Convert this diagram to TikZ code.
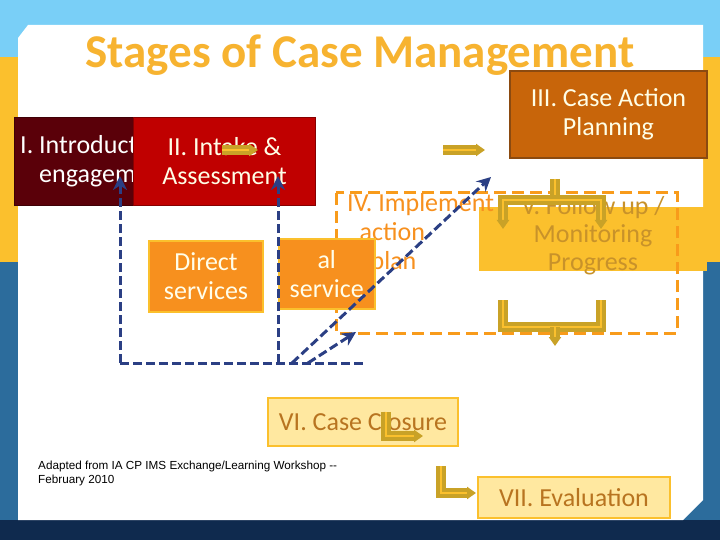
\documentclass[tikz,border=0pt]{standalone}
\usepackage{fontspec}
\setmainfont{Carlito}
\newfontfamily\arialf{Liberation Sans}
\usetikzlibrary{arrows.meta}
\definecolor{sky}{HTML}{79CFF7}
\definecolor{band}{HTML}{FBC02D}
\definecolor{navy}{HTML}{0F2A4E}
\definecolor{sea}{HTML}{2C6C9C}
\definecolor{titc}{HTML}{F7B330}
\definecolor{dred}{HTML}{5A0009}
\definecolor{red2}{HTML}{C00000}
\definecolor{brn}{HTML}{C8650A}
\definecolor{brnb}{HTML}{8B4A10}
\definecolor{org}{HTML}{F7901E}
\definecolor{gold}{HTML}{C9A227}
\definecolor{vtext}{HTML}{C8922A}
\definecolor{blu}{HTML}{2B3F84}
\definecolor{pale}{HTML}{FFE8A0}
\definecolor{ptext}{HTML}{B87420}
\tikzset{
  boxtxt/.style={font=\fontsize{26}{29}\selectfont,align=center},
  goldarr/.style={draw=gold,line width=4pt,double=band,double distance=1.2pt,-{Triangle[length=9pt,width=12pt]}},
  goldln/.style={draw=gold,line width=4pt,double=band,double distance=1.2pt},
  bluarr/.style={draw=blu,line width=3pt,dash pattern=on 9pt off 4pt,-{Stealth[length=14pt,width=14pt]}},
  bluln/.style={draw=blu,line width=3pt,dash pattern=on 9pt off 4pt},
}
\begin{document}
\begin{tikzpicture}[x=1pt,y=-1pt]
\useasboundingbox (0,0) rectangle (720,540);
% background
\fill[sky] (0,0) rectangle (720,57);
\fill[band] (0,57) rectangle (720,262);
\fill[sea] (0,262) rectangle (720,540);
\fill[navy] (0,520) rectangle (720,540);
% card
\fill[white] (28,25) -- (703,25) -- (703,500) -- (683,520) -- (18,520) -- (18,38) -- cycle;
% title
\node[font=\bfseries\fontsize{47}{50}\selectfont,text=titc] (title) at (360,55) {Stages of Case Management};
% I & II
\node[fill=dred,draw=dred!70!black,minimum width=189,minimum height=88,anchor=north west,inner sep=0] (b1) at (14,117) {};
\node[boxtxt,text=white,anchor=west,align=left,inner sep=0] (t1) at (20,161) {I. Introduct\\\hphantom{I.} engagem};
\node[fill=red2,draw=red2!70!black,line width=1pt,minimum width=182,minimum height=88,anchor=north west,inner sep=0,boxtxt,text=white!90!yellow] (b2) at (133,117) {II. Intake \&\\Assessment};
% III
\node[fill=brn,draw=brnb,line width=2pt,minimum width=197,minimum height=87,anchor=north west,boxtxt,text=white!90!yellow] (b3) at (509,70) {III. Case Action\\Planning};
% V
\fill[band] (479,207) rectangle (707,271);
\node[boxtxt,text=vtext,anchor=north,inner sep=0,font=\fontsize{26}{28}\selectfont] (b5) at (593,196) {V. Follow up /\\Monitoring\\Progress};
% dashed frame
\draw[draw=org!90!yellow,line width=3pt,dash pattern=on 12pt off 6pt] (336,193) rectangle (677,333);
% IV text
\node[boxtxt,text=org,anchor=north west,align=left,inner sep=0] (t4) at (347,193) {IV. Implement\\\hphantom{a}action\\\hphantom{ac}plan};
% direct / referral
\node[fill=org,draw=band,line width=2pt,minimum width=114,minimum height=71,anchor=north west,boxtxt,text=white!92!yellow] (b6) at (148,240) {Direct\\services};
\node[fill=org,draw=band,line width=1.5pt,minimum width=96,minimum height=70,anchor=north west,boxtxt,text=white!92!yellow,inner sep=0] (b7) at (278,238) {al\\service};
% gold arrows
\coordinate (g1) at (222,150); \coordinate (g2) at (258,150);
\draw[goldarr] (g1) -- (g2);
\coordinate (g3) at (443,150); \coordinate (g4) at (485,150);
\draw[goldarr] (g3) -- (g4);
\coordinate (u0) at (555,179); \coordinate (u1) at (555,200);
\coordinate (ul) at (503,200); \coordinate (ur) at (601,200);
\coordinate (ule) at (503,229); \coordinate (ure) at (601,229);
\draw[goldln] (u0) -- (u1);
\draw[goldarr] (u1) -- (ul) -- (ule);
\draw[goldarr] (u1) -- (ur) -- (ure);
\coordinate (l1) at (503,300); \coordinate (l2) at (503,327); \coordinate (l3) at (601,327); \coordinate (l4) at (601,300);
\draw[goldln] (l1) -- (l2) -- (l3) -- (l4);
\coordinate (lm) at (555,327); \coordinate (lme) at (555,346);
\draw[goldarr] (lm) -- (lme);
% blue dashed
\coordinate (p0) at (120,363); \coordinate (p1) at (120,176);
\coordinate (p2) at (364,363); \coordinate (p3) at (278,363); \coordinate (p4) at (278,176);
\coordinate (p5) at (292,363); \coordinate (p6) at (491,177);
\coordinate (p7) at (308,363); \coordinate (p8) at (356,332);
\draw[bluln] (p0) -- (p2);
\draw[bluarr] (p0) -- (p1);
\draw[bluarr] (p3) -- (p4);
\draw[bluarr] (p5) -- (p6);
\draw[bluarr] (p7) -- (p8);
% VI, VII
\node[fill=pale,draw=band,line width=2pt,minimum width=190,minimum height=48,anchor=north west,boxtxt,text=ptext] (b8) at (267,397) {VI. Case Closure};
\node[fill=pale,draw=band,line width=2pt,minimum width=192,minimum height=41,anchor=north west,boxtxt,text=ptext] (b9) at (477,476) {VII. Evaluation};
\coordinate (e1) at (386,412); \coordinate (e2) at (386,436); \coordinate (e3) at (423,436);
\draw[goldarr] (e1) -- (e2) -- (e3);
\coordinate (f1) at (441,466); \coordinate (f2) at (441,493); \coordinate (f3) at (476,493);
\draw[goldarr] (f1) -- (f2) -- (f3);
% credit
\node[font=\arialf\fontsize{11.7}{14}\selectfont,align=left,anchor=north west,inner sep=0] (cr) at (38,461) {Adapted from IA CP IMS Exchange/Learning Workshop --\\February 2010};
\end{tikzpicture}
\end{document}
